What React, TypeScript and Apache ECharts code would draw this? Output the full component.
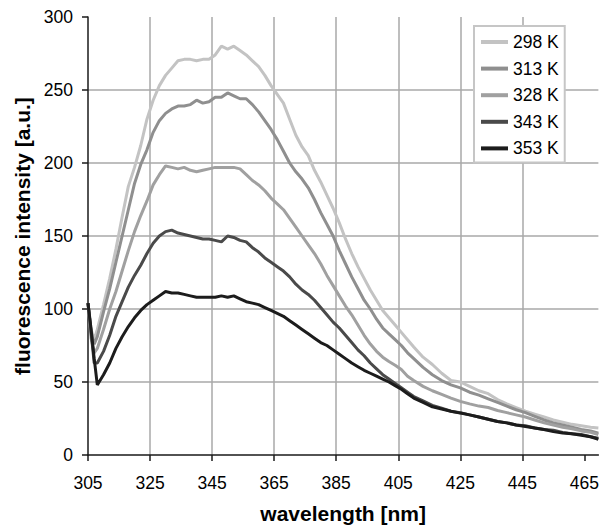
import React, { useEffect, useRef } from "react";
import * as echarts from "echarts";

const wavelengths = [
  305, 306, 307, 308, 310, 312, 314, 316, 318, 320, 322, 324, 326, 328, 330, 332, 334, 336, 338, 340,
  342, 344, 346, 348, 350, 352, 354, 356, 358, 360, 362, 364, 366, 368, 370, 372, 374, 376, 378, 380,
  382, 384, 386, 388, 390, 392, 394, 396, 398, 400, 402, 404, 406, 408, 410, 413, 416, 419, 422, 425,
  428, 431, 434, 437, 440, 443, 446, 449, 452, 455, 458, 461, 464, 467, 469.5,
];

const k298 = [
  104, 86, 79, 86, 103, 121, 141, 163, 184, 197, 212, 230, 243, 253, 260, 265, 270, 271, 271, 270,
  271, 271, 274, 280, 278, 280, 277, 274, 270, 266, 260, 253, 247, 241, 230, 219, 211, 205, 195, 187,
  178, 169, 159, 148, 138, 129, 121, 113, 106, 99, 94, 89, 84, 79, 74, 67, 62, 56, 51, 50,
  47, 44, 42, 38, 35, 32.5, 30, 28, 26, 24, 22.5, 21, 20, 19, 18.5,
];

const k313 = [
  104, 84, 76, 81, 98, 114, 132, 150, 168, 186, 199, 209, 221, 229, 234, 237, 239, 239, 240, 243,
  241, 242, 245, 245, 248, 246, 244, 244, 240, 235, 229, 223, 216, 208, 200, 194, 189, 183, 175, 166,
  158, 150, 140, 131, 122, 114, 106, 100, 93, 87, 83, 79, 75, 70, 66, 60, 55, 51, 48, 46,
  43, 41, 38.5, 36, 33.5, 31, 29, 26.5, 24, 22, 20.5, 19, 17.5, 16.5, 15,
];

const k328 = [
  104, 80, 70, 73, 86, 100, 112, 126, 140, 153, 164, 174, 185, 192, 198, 197, 196, 197, 195, 194,
  195, 196, 197, 197, 197, 197, 196, 192, 188, 185, 181, 176, 172, 168, 162, 156, 150, 144, 138, 131,
  123, 116, 109, 102, 96, 89, 82, 76, 71, 67, 64, 61.5, 58.5, 54, 51, 47, 44, 41.5, 39, 36.7,
  35, 33.5, 32.5, 30.5, 29, 27.5, 26, 24, 22, 20.5, 19, 18, 16.5, 15.5, 14,
];

const k343 = [
  104, 84, 63, 63, 71, 82, 95, 105, 115, 123, 130, 138, 145, 150, 153, 154, 152, 151, 150, 149,
  148, 148, 147, 146, 150, 149, 147, 146, 142, 139, 135, 132, 129, 126, 122, 117, 113, 110, 106, 101,
  96, 91, 87, 82, 77, 72, 68, 63, 59, 55, 52, 49, 46, 43, 40, 37, 34, 32, 30, 29,
  27.5, 26, 24.5, 23, 22, 20.5, 20, 18.5, 17.5, 17, 15.5, 14.5, 14, 12.5, 11.5,
];

const k353 = [
  104, 86, 66, 48, 55, 63, 73, 81, 88, 94, 99, 103, 106, 109, 112, 111, 111, 110, 109, 108,
  108, 108, 108, 109, 108, 109, 107, 105, 104, 103, 101, 99, 97, 95, 92, 89, 86, 83, 80, 77,
  75, 72, 69, 66, 63, 60.5, 58, 56, 54, 52, 50, 47.5, 45, 42, 39, 36, 33, 31.5, 30, 28.7,
  27.5, 26, 24.5, 23, 22, 20.5, 19.5, 18.5, 17.5, 16, 15, 14.5, 13.5, 12.5, 10.8,
];

const seriesNames = ["298 K", "313 K", "328 K", "343 K", "353 K"];
const seriesValues = [k298, k313, k328, k343, k353];
const seriesColors = ["#c3c3c3", "#8f8f8f", "#a0a0a0", "#4a4a4a", "#1c1c1c"];

const xTicks = [305, 325, 345, 365, 385, 405, 425, 445, 465];

const FONT = "'Liberation Sans', Arial, Helvetica, sans-serif";

export default function App() {
  const ref = useRef<HTMLDivElement>(null);

  useEffect(() => {
    if (!ref.current) return;
    const chart = echarts.init(ref.current, null, { renderer: "svg" });
    const option = {
      animation: false,
      backgroundColor: "#ffffff",
      grid: { left: 88, top: 17, right: 1, bottom: 70, containLabel: false },
      legend: {
        orient: "vertical",
        left: 474,
        top: 26,
        padding: [7, 6, 5, 7],
        itemGap: 8.6,
        itemWidth: 27,
        itemHeight: 4,
        itemTextGap: 4,
        icon: "rect",
        borderColor: "#c6c6c6",
        borderWidth: 2,
        backgroundColor: "#ffffff",
        textStyle: { fontSize: 17.5, lineHeight: 17, color: "#000", fontFamily: FONT },
        data: seriesNames,
      },
      xAxis: {
        type: "value",
        min: 305,
        max: 469.5,
        interval: 20,
        name: "wavelength [nm]",
        nameLocation: "middle",
        nameGap: 48,
        nameTextStyle: { fontSize: 21, fontWeight: "bold", color: "#000", fontFamily: FONT },
        axisLine: { show: true, onZero: false, lineStyle: { color: "#1a1a1a", width: 1.5 } },
        axisTick: { show: true, inside: false, length: 6, lineStyle: { color: "#1a1a1a", width: 1.5 }, customValues: xTicks },
        axisLabel: { margin: 19, fontSize: 17.5, color: "#000", fontFamily: FONT, customValues: xTicks },
        splitLine: { show: true, showMinLine: false, showMaxLine: false, lineStyle: { color: "#a8a8a8", width: 1.5 } },
      },
      yAxis: {
        type: "value",
        min: 0,
        max: 300,
        interval: 50,
        name: "fluorescence intensity [a.u.]",
        nameLocation: "middle",
        nameGap: 55,
        nameTextStyle: { fontSize: 21, fontWeight: "bold", color: "#000", fontFamily: FONT },
        axisLine: { show: true, lineStyle: { color: "#1a1a1a", width: 1.5 } },
        axisTick: { show: true, inside: false, length: 6, lineStyle: { color: "#1a1a1a", width: 1.5 } },
        axisLabel: { margin: 15, fontSize: 17.5, color: "#000", fontFamily: FONT },
        splitLine: { show: true, showMinLine: false, showMaxLine: false, lineStyle: { color: "#a8a8a8", width: 1.5 } },
      },
      series: seriesNames.map((name, s) => ({
        name,
        type: "line",
        showSymbol: false,
        symbol: "none",
        color: seriesColors[s],
        lineStyle: { width: 3, color: seriesColors[s] },
        data: wavelengths.map((w, i) => [w, seriesValues[s][i]]),
      })),
    };
    chart.setOption(option as any);
    return () => chart.dispose();
  }, []);

  return (
    <div
      ref={ref}
      style={{ position: "absolute", left: 0, top: 0, width: 602, height: 529 }}
    />
  );
}
